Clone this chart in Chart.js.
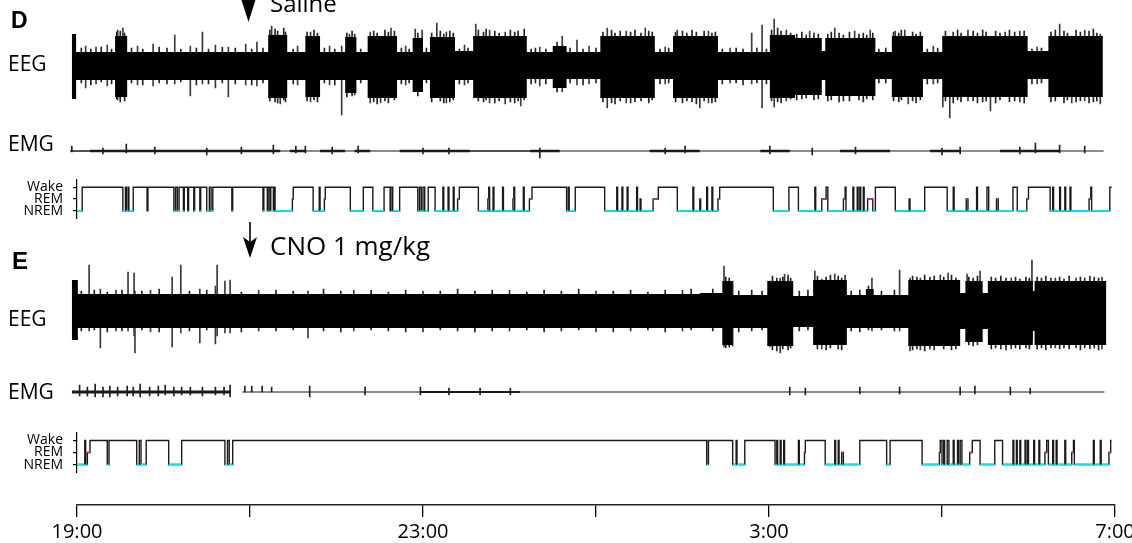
<!DOCTYPE html>
<html>
<head>
<meta charset="utf-8">
<script src="https://cdn.jsdelivr.net/npm/chart.js@4.4.1/dist/chart.umd.min.js"></script>
<style>
html,body{margin:0;padding:0;background:#fff;}
#wrap{position:relative;width:1132px;height:543px;overflow:hidden;font-family:'Open Sans',sans-serif;}
.row{position:absolute;left:0;width:1132px;}
.row canvas{display:block;}
.txt{position:absolute;white-space:nowrap;color:#000;line-height:1;}
.panel{font-family:'Liberation Sans',Arial,sans-serif;font-weight:bold;}
</style>
</head>
<body>
<div id="wrap">
  <div class="row" style="top:6px;height:120px"><canvas id="eegD" width="1132" height="120"></canvas></div>
  <div class="row" style="top:131px;height:40px"><canvas id="emgD" width="1132" height="40"></canvas></div>
  <div class="row" style="top:179px;height:40px"><canvas id="hypD" width="1132" height="40"></canvas></div>
  <div class="row" style="top:251px;height:120px"><canvas id="eegE" width="1132" height="120"></canvas></div>
  <div class="row" style="top:372px;height:40px"><canvas id="emgE" width="1132" height="40"></canvas></div>
  <div class="row" style="top:432px;height:41px"><canvas id="hypE" width="1132" height="41"></canvas></div>
  <div class="row" style="top:495px;height:48px"><canvas id="axis" width="1132" height="48"></canvas></div>

  <div class="txt panel" style="left:11px;top:9px;font-size:23px;">D</div>
  <div class="txt panel" style="left:12px;top:249px;font-size:24px;">E</div>
  <div class="txt" style="left:8px;top:53px;font-size:21px;">EEG</div>
  <div class="txt" style="left:8px;top:133px;font-size:21px;">EMG</div>
  <div class="txt" style="left:8px;top:308px;font-size:21px;">EEG</div>
  <div class="txt" style="left:8px;top:381px;font-size:21px;">EMG</div>
  <div class="txt" style="left:270px;top:-9px;font-size:24px;">Saline</div>
  <div class="txt" style="left:270px;top:232px;font-size:26px;">CNO 1 mg/kg</div>

  <svg style="position:absolute;left:0;top:0" width="1132" height="543">
    <polygon points="241.5,0 255.5,0 248.5,22" fill="#000"/>
    <line x1="250" y1="222" x2="250" y2="245" stroke="#000" stroke-width="1.6"/>
    <polygon points="243,237 250,258 257,237 250,242" fill="#000"/>
  </svg>
</div>

<script>
// ================= DATA (hours after 19:00 on x) =================
const tickHours  = [0, 2, 4, 6, 8, 10, 12];
const tickLabels = ['19:00', '', '23:00', '', '3:00', '', '7:00'];
const stateLabels = ['NREM', 'REM', 'Wake'];

// ---- Panel D (Saline) EEG envelope: segment boundaries, upper and lower excursion (a.u.)
const eegDTimes = [-0.06,-0.01,0.44,0.58,2.21,2.43,2.64,2.81,3.10,3.23,3.36,3.70,3.88,4.00,4.08,4.37,4.58,5.20,5.50,5.66,6.05,6.68,6.89,7.41,8.01,8.30,8.61,8.65,9.23,9.42,9.78,10.01,10.99,11.23,11.86];
const eegDUpper = [32,14,30,14,31,14,30,14,29,14,30,14,28,14,29,15,30,14,20,14,30,14,30,14,31,28,15,28,14,30,14,30,15,30];
const eegDLower = [-33,-14,-31,-14,-32,-14,-31,-14,-27,-14,-32,-14,-26,-14,-32,-14,-32,-13,-22,-13,-32,-13,-32,-14,-32,-29,-14,-30,-13,-31,-13,-31,-13,-31];
// D EEG large spikes
const eegDSpikeT  = [0.10,0.22,0.35,0.47,0.53,0.70,0.88,1.13,1.31,1.45,1.60,1.75,1.95,2.08,2.25,2.35,2.55,2.70,2.92,3.06,3.15,3.39,3.51,3.63,3.80,3.91,3.99,4.16,4.27,4.48,4.61,4.77,4.95,5.13,5.35,5.61,5.78,5.92,6.13,6.35,6.57,6.80,6.94,7.20,7.30,7.55,7.80,7.92,8.06,8.20,8.47,8.76,8.99,9.17,9.46,9.57,9.61,9.90,10.01,10.09,10.30,10.56,10.73,10.90,11.10,11.36,11.50,11.65,11.83];
const eegDSpikeHi = [20,19,21,36,38,20,22,31,20,34,21,19,22,24,40,30,20,34,20,20,32,34,20,38,20,37,36,43,34,21,42,36,34,25,19,30,26,20,38,35,38,19,36,25,35,18,33,41,47,36,35,38,35,36,35,36,25,20,30,28,36,30,34,35,19,42,30,36,32];
const eegDSpikeLo = [-22,-18,-20,-34,-22,-19,-20,-18,-30,-18,-22,-31,-19,-20,-30,-38,-19,-36,-19,-49,-24,-37,-37,-30,-19,-22,-20,-30,-37,-19,-30,-37,-38,-40,-20,-26,-19,-18,-42,-37,-30,-18,-25,-42,-37,-17,-18,-42,-41,-35,-25,-28,-28,-30,-20,-30,-38,-18,-41,-52,-35,-45,-30,-36,-18,-30,-37,-35,-38];
// D EEG fine hairs along the envelope edge: [time, high, low]
const eegDHairs = [
 [0.05,18,-17],[0.16,17,-19],[0.28,19,-16],[0.40,17,-18],[0.46,34,-33],[0.50,35,-36],[0.55,33,-35],[0.63,18,-17],[0.76,17,-19],[0.95,19,-17],
 [1.04,18,-18],[1.20,17,-16],[1.38,18,-19],[1.52,17,-18],[1.68,19,-17],[1.83,18,-18],[2.02,17,-19],[2.15,18,-17],[2.23,36,-35],[2.29,37,-36],
 [2.32,35,-37],[2.39,38,-34],[2.41,34,-36],[2.50,17,-18],[2.66,34,-35],[2.74,36,-34],[2.78,33,-36],[2.86,18,-17],[2.98,17,-19],[3.12,33,-31],
 [3.18,35,-30],[3.21,32,-29],[3.28,17,-17],[3.43,35,-36],[3.47,33,-38],[3.56,36,-35],[3.60,34,-37],[3.67,35,-34],[3.75,18,-18],[3.84,17,-17],
 [3.94,33,-30],[4.04,18,-17],[4.10,33,-36],[4.20,35,-35],[4.24,32,-37],[4.31,35,-36],[4.35,33,-34],[4.42,17,-18],[4.52,18,-17],[4.64,36,-35],
 [4.70,34,-36],[4.73,37,-34],[4.83,35,-37],[4.88,33,-35],[5.01,36,-36],[5.06,34,-37],[5.10,35,-35],[5.17,37,-34],[5.25,17,-18],[5.30,18,-17],
 [5.42,17,-18],[5.55,24,-26],[5.70,18,-17],[5.85,17,-19],[6.00,18,-17],[6.08,34,-36],[6.18,36,-37],[6.22,33,-38],[6.28,35,-35],[6.40,34,-37],
 [6.45,36,-36],[6.52,33,-35],[6.61,35,-37],[6.65,34,-34],[6.74,17,-18],[6.84,18,-17],[6.92,34,-36],[7.00,35,-37],[7.05,33,-35],[7.11,36,-36],
 [7.16,34,-38],[7.25,35,-35],[7.34,33,-37],[7.38,34,-36],[7.46,17,-18],[7.62,18,-17],[7.70,17,-19],[7.86,18,-17],[7.97,17,-18],[8.03,36,-35],
 [8.10,38,-36],[8.14,35,-37],[8.25,33,-33],[8.32,32,-34],[8.38,34,-33],[8.43,31,-32],[8.52,33,-34],[8.57,32,-33],[8.68,32,-35],[8.72,34,-34],
 [8.81,33,-36],[8.86,31,-35],[8.93,34,-35],[9.04,32,-34],[9.09,33,-36],[9.13,31,-33],[9.20,33,-34],[9.27,17,-17],[9.35,18,-17],[9.44,34,-35],
 [9.50,33,-36],[9.53,36,-34],[9.66,34,-35],[9.70,32,-37],[9.75,34,-34],[9.83,17,-18],[9.95,18,-17],[10.04,35,-35],[10.13,34,-37],[10.18,36,-34],
 [10.22,33,-36],[10.36,35,-35],[10.41,33,-37],[10.47,36,-36],[10.51,34,-35],[10.62,35,-37],[10.67,33,-34],[10.78,36,-36],[10.84,34,-35],[10.95,35,-37],
 [11.04,17,-18],[11.15,18,-17],[11.26,34,-36],[11.31,36,-35],[11.41,35,-37],[11.45,33,-34],[11.55,36,-36],[11.60,34,-35],[11.70,35,-37],[11.75,37,-36],
 [11.79,33,-35]
];

// ---- Panel D EMG envelope (symmetric amplitude) and spikes
const emgDTimes = [-0.08,0.15,2.35,2.46,2.64,2.81,3.10,3.21,3.39,3.73,4.54,5.24,5.58,6.62,7.20,7.90,8.24,8.82,9.40,9.86,10.21,10.67,11.36,11.87];
const emgDAmp   = [0.8,1.3,0.6,1.3,0.6,1.2,0.6,1.2,0.6,1.2,0.8,1.3,0.6,1.2,0.6,1.2,0.6,1.2,0.6,1.2,0.6,1.2,0.6];
const emgDSpikeT  = [-0.06,0.30,0.57,0.90,1.50,1.90,2.27,2.53,2.64,2.95,3.25,4.00,4.30,5.35,6.80,7.03,8.01,8.50,9.00,10.00,10.21,10.90,11.08,11.36,11.65];
const emgDSpikeHi = [5,3,7,4,3,4,6,5,5,4,5,3,3,3,3,5,5,3,4,3,4,4,8,6,5];
const emgDSpikeLo = [-1,-3,-2,-3,-4,-3,-3,-2,-2,-3,-2,-3,-3,-7,-3,-2,-3,-4,-3,-4,-3,-3,-2,-2,-2];

// ---- Panel D hypnogram: state onset times and states (W = Wake, R = REM, N = NREM)
const hypDTimes = [0.00,0.06,0.53,0.56,0.57,0.59,0.60,0.65,0.81,0.82,1.12,1.14,1.16,1.18,1.23,1.24,1.28,1.29,1.35,1.36,1.42,1.43,1.50,1.53,1.55,1.57,1.79,1.80,2.15,2.16,2.20,2.21,2.23,2.24,2.27,2.28,2.29,2.49,2.50,2.73,2.80,2.81,2.86,2.87,3.16,3.31,3.42,3.55,3.62,3.63,3.65,3.73,3.94,3.96,3.98,4.00,4.02,4.06,4.14,4.23,4.24,4.29,4.30,4.35,4.36,4.40,4.42,4.64,4.75,4.76,4.77,4.81,4.82,4.92,4.93,5.04,5.05,5.06,5.16,5.17,5.23,5.26,5.66,5.68,5.69,5.76,6.10,6.24,6.25,6.30,6.31,6.36,6.37,6.47,6.48,6.51,6.52,6.66,6.72,6.94,7.12,7.13,7.20,7.21,7.28,7.29,7.34,7.35,7.41,7.43,8.05,8.23,8.34,8.53,8.54,8.61,8.66,8.68,8.86,8.88,8.89,8.97,8.98,9.02,9.03,9.05,9.06,9.09,9.10,9.14,9.20,9.23,9.46,9.62,9.63,9.80,10.06,10.13,10.14,10.28,10.30,10.40,10.41,10.52,10.54,10.63,10.65,10.82,10.87,10.98,11.00,11.25,11.28,11.29,11.36,11.37,11.42,11.43,11.48,11.49,11.70,11.72,11.73,11.94,11.96];
const hypDStates = ['N','W','N','W','N','W','N','W','N','W','N','W','N','W','N','W','N','W','N','W','N','W','N','W','N','W','N','W','N','W','N','W','N','W','N','W','N','R','W','N','W','N','R','W','N','W','N','W','N','W','N','W','N','W','N','W','N','W','N','W','N','W','N','W','N','R','W','N','R','W','N','W','N','W','N','R','W','N','W','N','R','W','N','W','N','W','N','W','N','W','N','W','N','W','N','R','N','R','W','N','W','N','R','N','W','N','W','N','R','W','N','W','N','W','N','R','W','N','R','W','N','W','N','W','N','W','N','W','N','R','N','W','N','R','N','W','N','W','N','R','N','W','N','W','N','R','N','W','N','R','W','N','W','N','W','N','W','N','W','N','R','W','N','W','W'];

// ---- Panel E (CNO 1 mg/kg) EEG envelope
const eegETimes = [-0.06,0.01,7.20,7.46,7.58,7.98,8.28,8.51,8.90,9.12,9.21,9.61,10.21,10.27,10.47,10.53,11.05,11.07,11.90];
const eegEUpper = [31,17,18,30,16,30,15,31,16,22,16,31,18,30,18,30,20,30];
const eegELower = [-29,-17,-17,-34,-17,-35,-16,-34,-17,-17,-17,-35,-18,-31,-18,-34,-20,-34];
const eegESpikeT  = [0.14,0.27,0.45,0.59,0.66,0.67,0.85,1.10,1.20,1.42,1.60,1.62,1.71,1.77,2.10,2.67,3.20,4.00,5.00,6.00,7.00,7.48,7.58,8.01,8.13,8.18,8.53,8.61,8.76,8.88,9.19,9.51,9.63,9.75,9.98,10.07,10.29,10.44,10.80,11.04,11.31,11.55,11.85];
const eegESpikeHi = [46,22,21,39,38,20,21,34,46,22,25,46,30,31,21,20,21,20,21,20,21,45,30,30,33,37,40,32,37,36,33,41,33,33,36,38,37,40,33,51,33,33,34];
const eegESpikeLo = [-20,-37,-20,-20,-25,-42,-21,-36,-22,-32,-33,-25,-22,-22,-20,-27,-20,-21,-20,-21,-20,-36,-35,-36,-42,-30,-30,-38,-30,-33,-20,-20,-40,-39,-33,-33,-30,-30,-38,-30,-37,-37,-38];
const eegEHairs = [
 [0.05,20,-20],[0.20,21,-19],[0.35,19,-21],[0.52,21,-20],[0.75,20,-19],[0.95,22,-21],[1.30,20,-20],[1.50,21,-19],[1.90,19,-21],[2.30,21,-20],
 [2.50,20,-19],[2.85,22,-20],[3.05,20,-21],[3.40,21,-19],[3.60,19,-20],[3.80,21,-21],[4.20,20,-19],[4.40,22,-20],[4.60,20,-21],[4.80,21,-20],
 [5.20,19,-19],[5.40,21,-21],[5.60,20,-20],[5.80,22,-19],[6.20,20,-21],[6.40,21,-20],[6.60,19,-19],[6.80,21,-21],[7.10,22,-19],[7.35,22,-20],
 [7.50,34,-37],[7.54,33,-36],[7.65,20,-21],[7.80,21,-20],[7.92,20,-19],[8.04,35,-39],[8.09,33,-40],[8.16,34,-38],[8.22,36,-39],[8.25,33,-37],
 [8.35,20,-20],[8.45,21,-19],[8.56,35,-38],[8.66,34,-39],[8.71,36,-37],[8.80,35,-38],[8.84,33,-39],[8.95,20,-20],[9.05,21,-21],[9.15,25,-19],
 [9.30,20,-19],[9.45,21,-20],[9.66,35,-39],[9.71,34,-38],[9.80,36,-40],[9.86,34,-38],[9.91,35,-39],[10.02,34,-38],[10.11,36,-39],[10.16,33,-38],
 [10.31,34,-34],[10.36,33,-35],[10.41,35,-34],[10.57,34,-38],[10.62,33,-37],[10.68,35,-38],[10.74,33,-39],[10.85,34,-37],[10.90,32,-38],[10.97,34,-37],
 [11.01,33,-38],[11.10,34,-38],[11.15,33,-37],[11.20,35,-39],[11.26,33,-37],[11.36,34,-38],[11.41,32,-37],[11.47,35,-38],[11.60,34,-39],[11.65,33,-37],
 [11.71,35,-38],[11.76,34,-37],[11.81,33,-39]
];

// ---- Panel E EMG (null = signal gap)
const emgETimes = [-0.06,1.78,1.91,3.97,5.12,11.88];
const emgEAmp   = [1.6,null,0.6,0.9,0.6];
const emgESpikeT  = [0.03,0.12,0.21,0.30,0.38,0.47,0.58,0.65,0.73,0.84,0.94,1.02,1.12,1.21,1.31,1.45,1.60,1.70,1.77,1.94,2.02,2.14,2.25,2.69,3.33,3.97,4.30,4.66,5.01,8.24,8.42,9.05,9.51,10.21,10.38,10.79,11.02];
const emgESpikeHi = [7,5,8,5,6,5,6,5,8,5,6,7,5,5,5,5,5,5,7,6,6,6,5,6,5,5,4,4,4,5,4,5,5,5,6,5,4];
const emgESpikeLo = [-4,-4,-5,-5,-5,-4,-4,-4,-5,-4,-4,-3,-4,-3,-3,-4,-3,-3,-5,0,0,0,0,-5,-3,-3,-3,-3,-3,-3,-3,-2,-2,-3,-2,-3,-2];

// ---- Panel E hypnogram
const hypETimes = [0.00,0.09,0.10,0.12,0.15,0.35,0.37,0.69,0.72,0.74,0.80,1.06,1.21,1.71,1.74,1.76,1.80,7.28,7.30,7.58,7.62,7.63,7.72,8.07,8.09,8.10,8.13,8.14,8.17,8.18,8.34,8.35,8.41,8.42,8.65,8.76,8.77,8.80,8.81,8.84,8.86,9.05,9.36,9.40,9.77,9.97,9.98,10.00,10.02,10.03,10.06,10.08,10.13,10.14,10.18,10.19,10.21,10.23,10.32,10.35,10.44,10.61,10.70,10.82,10.83,10.86,10.87,10.90,10.91,10.96,10.97,10.99,11.00,11.06,11.07,11.12,11.13,11.19,11.21,11.23,11.28,11.29,11.32,11.33,11.42,11.43,11.50,11.52,11.53,11.75,11.76,11.83,11.84,11.93,11.95,11.96];
const hypEStates = ['N','W','N','R','W','N','W','N','W','N','W','N','W','N','W','N','W','N','W','N','W','N','W','N','W','N','W','N','W','N','W','N','R','W','N','W','N','W','N','R','N','W','N','W','N','R','W','N','W','N','W','N','W','N','W','N','W','N','R','W','N','W','N','W','N','W','N','W','N','W','N','W','N','W','N','W','N','R','W','N','W','N','W','N','W','N','R','W','N','W','N','W','N','R','W','W'];

// ================= LAYOUT / STYLE =================
const W = 1132, X0PX = 77, PX_PER_H = 86.5;
const stateValue = {N: 0, R: 1, W: 2};
const FONT = "'Open Sans', sans-serif";

function padX(xmin, xmax) {
  return {left: X0PX + xmin * PX_PER_H, right: W - (X0PX + xmax * PX_PER_H)};
}
function bandPoints(times, vals, sign) {
  const pts = [];
  for (let i = 0; i < vals.length; i++) {
    if (vals[i] === null) { pts.push({x: times[i], y: null}); continue; }
    const v = sign * vals[i];
    pts.push({x: times[i], y: v}, {x: times[i + 1], y: v});
  }
  return pts;
}
function spikePoints(t, hi, lo) {
  return t.map((x, i) => ({x: x, y: [lo[i], hi[i]]}));
}
function hairPoints(list) {
  return list.map(h => ({x: h[0], y: [h[2], h[1]]}));
}
function hypMain(times, states) {
  return times.map((t, i) => ({x: t, y: stateValue[states[i]]}));
}
function hypOverlay(times, states, s) {
  const pts = [];
  for (let i = 0; i < times.length - 1; i++) {
    if (states[i] === s) {
      pts.push({x: times[i], y: stateValue[s]}, {x: times[i + 1], y: stateValue[s]}, {x: times[i + 1], y: null});
    }
  }
  return pts;
}
const common = {
  responsive: false, animation: false, devicePixelRatio: 1, events: [],
  plugins: {legend: {display: false}, tooltip: {enabled: false}, title: {display: false}}
};

function traceChart(id, yRange, up, lo, bandColor, spikeSets) {
  const xmin = -0.1, xmax = 12.1;
  const p = padX(xmin, xmax);
  const ds = [
    {data: up, borderWidth: 0, pointRadius: 0, fill: 'origin', backgroundColor: bandColor, spanGaps: false, order: 1},
    {data: lo, borderWidth: 0, pointRadius: 0, fill: 'origin', backgroundColor: bandColor, spanGaps: false, order: 2}
  ];
  spikeSets.forEach((s, i) => ds.push({type: 'bar', data: s.data, backgroundColor: s.color, borderWidth: 0,
                                       barThickness: 1, grouped: false, order: 10 + i}));
  return new Chart(document.getElementById(id), {
    type: 'line',
    data: {datasets: ds},
    options: Object.assign({}, common, {
      layout: {padding: {left: p.left, right: p.right, top: 0, bottom: 0}},
      scales: {
        x: {type: 'linear', display: false, min: xmin, max: xmax, offset: false, grid: {offset: false}},
        y: {type: 'linear', display: false, min: -yRange, max: yRange}
      }
    })
  });
}

function hypChart(id, times, states) {
  const xmin = 0, xmax = 12.1;
  const p = padX(xmin, xmax);
  return new Chart(document.getElementById(id), {
    type: 'line',
    data: {datasets: [
      {data: hypOverlay(times, states, 'N'), borderColor: '#12e3ef', borderWidth: 1.7, pointRadius: 0, spanGaps: false, order: 0},
      {data: hypOverlay(times, states, 'R'), borderColor: '#e01ee0', borderWidth: 1.7, pointRadius: 0, spanGaps: false, order: 0},
      {data: hypMain(times, states), stepped: true, borderColor: '#1a1a1a', borderWidth: 1.4, pointRadius: 0, order: 1}
    ]},
    options: Object.assign({}, common, {
      layout: {padding: {left: 0, right: p.right, top: 0, bottom: 0}},
      scales: {
        x: {type: 'linear', display: false, min: xmin, max: xmax},
        y: {
          type: 'linear', min: -0.7, max: 2.7, position: 'left',
          afterBuildTicks: s => { s.ticks = [0, 1, 2].map(v => ({value: v})); },
          afterFit: s => { s.width = X0PX; s.paddingTop = 0; s.paddingBottom = 0; },
          ticks: {callback: v => stateLabels[v], color: '#000', padding: 10, autoSkip: false,
                  font: {family: FONT, size: 14}},
          grid: {drawOnChartArea: false, drawTicks: true, tickLength: 4, color: '#000', lineWidth: 1.2},
          border: {display: true, color: '#000', width: 1.2}
        }
      }
    })
  });
}

traceChart('eegD', 60, bandPoints(eegDTimes, eegDUpper, 1), bandPoints(eegDTimes, eegDLower, 1), '#000', [
  {data: hairPoints(eegDHairs), color: '#222'},
  {data: spikePoints(eegDSpikeT, eegDSpikeHi, eegDSpikeLo), color: '#3a3a3a'}
]);
traceChart('emgD', 20, bandPoints(emgDTimes, emgDAmp, 1), bandPoints(emgDTimes, emgDAmp, -1), '#1a1a1a', [
  {data: spikePoints(emgDSpikeT, emgDSpikeHi, emgDSpikeLo), color: '#222'}
]);
hypChart('hypD', hypDTimes, hypDStates);
traceChart('eegE', 60, bandPoints(eegETimes, eegEUpper, 1), bandPoints(eegETimes, eegELower, 1), '#000', [
  {data: hairPoints(eegEHairs), color: '#222'},
  {data: spikePoints(eegESpikeT, eegESpikeHi, eegESpikeLo), color: '#3a3a3a'}
]);
traceChart('emgE', 20, bandPoints(emgETimes, emgEAmp, 1), bandPoints(emgETimes, emgEAmp, -1), '#1a1a1a', [
  {data: spikePoints(emgESpikeT, emgESpikeHi, emgESpikeLo), color: '#222'}
]);
hypChart('hypE', hypETimes, hypEStates);

// time axis
(function () {
  const xmin = 0, xmax = 12;
  const p = padX(xmin, xmax);
  new Chart(document.getElementById('axis'), {
    type: 'line',
    data: {datasets: [{data: [], pointRadius: 0}]},
    options: Object.assign({}, common, {
      layout: {padding: {left: p.left, right: p.right, top: 0, bottom: 0}},
      scales: {
        x: {
          type: 'linear', min: xmin, max: xmax, position: 'bottom',
          afterBuildTicks: s => { s.ticks = tickHours.map(v => ({value: v})); },
          afterFit: s => { s.height = 38; s.paddingLeft = 0; s.paddingRight = 0; },
          ticks: {callback: v => tickLabels[tickHours.indexOf(v)], autoSkip: false, maxRotation: 0,
                  color: '#000', padding: 3, font: {family: FONT, size: 20}},
          grid: {drawOnChartArea: false, drawTicks: true, tickLength: 12, color: '#000', lineWidth: 1.3},
          border: {display: true, color: '#222', width: 1.6}
        },
        y: {display: false, min: 0, max: 1}
      }
    })
  });
})();
</script>
</body>
</html>
